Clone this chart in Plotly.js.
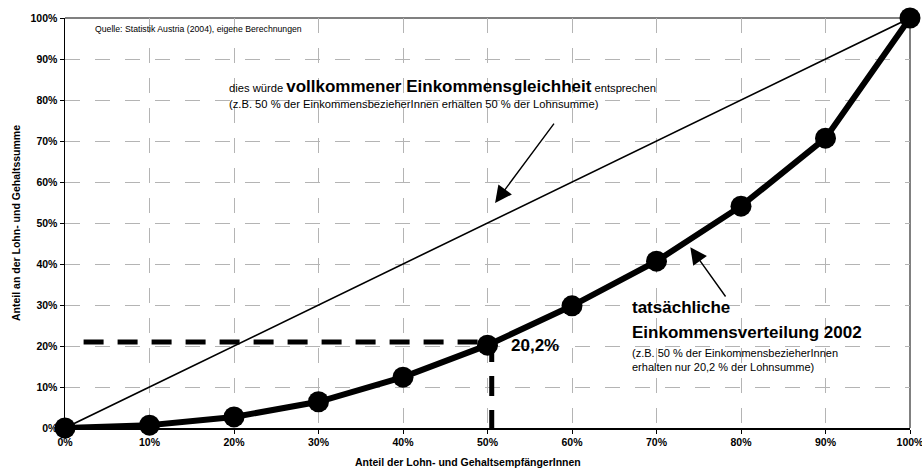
<!DOCTYPE html>
<html>
<head>
<meta charset="utf-8">
<script src="https://cdn.plot.ly/plotly-3.0.1.min.js"></script>
<style>
  html, body { margin: 0; padding: 0; background: #ffffff; }
  #chart { width: 922px; height: 472px; }
</style>
</head>
<body>
<div id="chart"></div>
<script>
// Anteil der Lohn- und GehaltsempfängerInnen (kumuliert, %)
const earnerShare = [0, 10, 20, 30, 40, 50, 60, 70, 80, 90, 100];
// Anteil an der Lohn- und Gehaltssumme (kumuliert, %), Lorenzkurve 2002
const incomeShare = [0, 0.7, 2.7, 6.4, 12.4, 20.2, 29.8, 40.7, 54.1, 70.7, 100];
// Gleichverteilungsgerade
const equalityX = [0, 100];
const equalityY = [0, 100];
// Hilfslinien zum Wert bei 50 %
const guideHX = [2.2, 50.5];
const guideHY = [21, 21];
const guideVX = [50.5, 50.5];
const guideVY = [21, 0];
// Achsenbeschriftungen
const tickValues = [0, 10, 20, 30, 40, 50, 60, 70, 80, 90, 100];
const tickLabels = tickValues.map(v => v + '%');

const FONT = 'Liberation Sans, Arial, sans-serif';

const traces = [
  {
    x: equalityX, y: equalityY, type: 'scatter', mode: 'lines',
    line: { color: '#000000', width: 1.6 }, hoverinfo: 'skip', cliponaxis: false
  },
  {
    x: guideHX, y: guideHY, type: 'scatter', mode: 'lines',
    line: { color: '#000000', width: 5, dash: '20px,14px' }, hoverinfo: 'skip', cliponaxis: false
  },
  {
    x: guideVX, y: guideVY, type: 'scatter', mode: 'lines',
    line: { color: '#000000', width: 5, dash: '20px,14px' }, hoverinfo: 'skip', cliponaxis: false
  },
  {
    x: earnerShare, y: incomeShare, type: 'scatter', mode: 'lines+markers',
    line: { color: '#000000', width: 6 },
    marker: { color: '#000000', size: 21, symbol: 'circle' },
    cliponaxis: false
  }
];

const annotations = [
  {
    x: 3.3, y: 97.3, xref: 'x', yref: 'y', xanchor: 'left', yanchor: 'middle',
    text: 'Quelle: Statistik Austria (2004), eigene Berechnungen',
    showarrow: false, font: { family: FONT, size: 8.7, color: '#000000' }
  },
  {
    x: 19.2, y: 83.4, xref: 'x', yref: 'y', xanchor: 'left', yanchor: 'middle',
    text: 'dies würde <b><span style="font-size:17px">vollkommener Einkommensgleichheit</span></b> entsprechen',
    showarrow: false, font: { family: FONT, size: 11.2, color: '#000000' }
  },
  {
    x: 19.2, y: 79.0, xref: 'x', yref: 'y', xanchor: 'left', yanchor: 'middle',
    text: '(z.B. 50 % der EinkommensbezieherInnen erhalten 50 % der Lohnsumme)',
    showarrow: false, font: { family: FONT, size: 11.2, color: '#000000' }
  },
  {
    x: 66.9, y: 29.3, xref: 'x', yref: 'y', xanchor: 'left', yanchor: 'middle',
    text: '<b>tatsächliche</b>',
    showarrow: false, font: { family: FONT, size: 17, color: '#000000' }
  },
  {
    x: 66.9, y: 23.4, xref: 'x', yref: 'y', xanchor: 'left', yanchor: 'middle',
    text: '<b>Einkommensverteilung 2002</b>',
    showarrow: false, font: { family: FONT, size: 17, color: '#000000' }
  },
  {
    x: 66.9, y: 18.3, xref: 'x', yref: 'y', xanchor: 'left', yanchor: 'middle',
    text: '(z.B. 50 % der EinkommensbezieherInnen',
    showarrow: false, font: { family: FONT, size: 11, color: '#000000' }
  },
  {
    x: 66.9, y: 14.9, xref: 'x', yref: 'y', xanchor: 'left', yanchor: 'middle',
    text: 'erhalten nur 20,2 % der Lohnsumme)',
    showarrow: false, font: { family: FONT, size: 11, color: '#000000' }
  },
  {
    x: 52.5, y: incomeShare[5], xref: 'x', yref: 'y', xanchor: 'left', yanchor: 'middle',
    text: '<b>' + String(incomeShare[5]).replace('.', ',') + '%</b>',
    showarrow: false, font: { family: FONT, size: 17, color: '#000000' }
  },
  // Achsentitel der x-Achse
  {
    x: 0.4775, y: -0.083, xref: 'paper', yref: 'paper', xanchor: 'center', yanchor: 'middle',
    text: '<b>Anteil der Lohn- und GehaltsempfängerInnen</b>',
    showarrow: false, font: { family: FONT, size: 10.5, color: '#000000' }
  },
  // Pfeil zur Gleichverteilungsgeraden
  {
    x: 50.9, y: 54.9, xref: 'x', yref: 'y',
    ax: 58.0, ay: 74.6, axref: 'x', ayref: 'y',
    text: '', showarrow: true, arrowhead: 2, arrowsize: 2.4, arrowwidth: 1.4,
    arrowcolor: '#000000', standoff: 0
  },
  // Pfeil zur Lorenzkurve
  {
    x: 74.0, y: 44.1, xref: 'x', yref: 'y',
    ax: 78.3, ay: 31.7, axref: 'x', ayref: 'y',
    text: '', showarrow: true, arrowhead: 2, arrowsize: 2.4, arrowwidth: 1.4,
    arrowcolor: '#000000', standoff: 0
  }
];

const layout = {
  width: 922, height: 472,
  margin: { l: 65, r: 12, t: 18, b: 44 },
  paper_bgcolor: '#ffffff', plot_bgcolor: '#ffffff',
  showlegend: false,
  font: { family: FONT, color: '#000000' },
  xaxis: {
    range: [0, 100], tickmode: 'array', tickvals: tickValues, ticktext: tickLabels,
    showgrid: true, gridcolor: '#b4b4b4', gridwidth: 1, griddash: 'longdash',
    zeroline: false, showline: true, linecolor: '#000000', linewidth: 1.5,
    ticks: 'outside', ticklen: 4, tickcolor: '#000000', tickwidth: 1,
    ticklabeloverflow: 'allow',
    tickfont: { family: FONT, size: 10.5, color: '#000000', weight: 'bold' },
    fixedrange: true
  },
  yaxis: {
    range: [0, 100], tickmode: 'array', tickvals: tickValues, ticktext: tickLabels,
    showgrid: true, gridcolor: '#b4b4b4', gridwidth: 1, griddash: 'longdash',
    zeroline: false, showline: true, linecolor: '#000000', linewidth: 1.5,
    ticks: 'outside', ticklen: 4, tickcolor: '#000000', tickwidth: 1,
    tickfont: { family: FONT, size: 10.5, color: '#000000', weight: 'bold' },
    title: {
      text: '<b>Anteil an der Lohn- und Gehaltssumme</b>',
      font: { family: FONT, size: 10.5, color: '#000000' }, standoff: 8
    },
    fixedrange: true
  },
  shapes: [
    // obere und rechte Rahmenlinie
    { type: 'line', xref: 'paper', yref: 'paper', x0: 0, x1: 1, y0: 1, y1: 1,
      line: { color: '#808080', width: 2 }, layer: 'below' },
    { type: 'line', xref: 'paper', yref: 'paper', x0: 1, x1: 1, y0: 0, y1: 1,
      line: { color: '#808080', width: 2 }, layer: 'below' }
  ],
  annotations: annotations
};

Plotly.newPlot('chart', traces, layout, { displayModeBar: false, staticPlot: true });
</script>
</body>
</html>
